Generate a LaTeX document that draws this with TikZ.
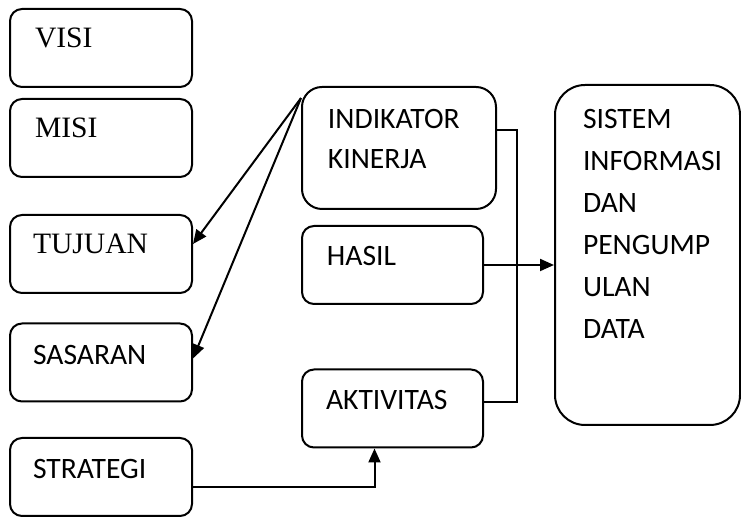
\documentclass[tikz,border=0pt]{standalone}
\usepackage{fontspec}
\setmainfont{Liberation Serif}
\newfontfamily\calibri{Carlito}
\usetikzlibrary{arrows.meta}

\newcommand{\kolomkiri}{101}
\newcommand{\kolomtengah}{392.5}

\begin{document}
\begin{tikzpicture}[x=0.5pt, y=-0.5pt, line width=1pt,
    kotak/.style={draw, rounded corners=6pt, inner sep=0pt,
      minimum width=91pt, minimum height=39pt},
    teks/.style={anchor=base west, inner sep=0pt, align=left,
      font=\fontsize{14.8}{20}\selectfont},
    panah/.style={-{Triangle[length=7pt, width=6pt]}}]

  \useasboundingbox (0,0) rectangle (741,517);

  % kolom kiri
  \foreach \nama/\posy in {visi/48, misi/138, tujuan/254, sasaran/362.5, strategi/477}
    \node [kotak] (\nama) at (\kolomkiri,\posy) {};

  \node [teks] (tvisi) at ([shift={(25,40)}]visi.north west) {VISI};
  \node [teks] (tmisi) at ([shift={(25,40)}]misi.north west) {MISI};
  \node [teks] (ttujuan) at ([shift={(23,40)}]tujuan.north west) {TUJUAN};
  \node [teks] (tsasaran) at ([shift={(23,42)}]sasaran.north west) {\calibri SASARAN};
  \node [teks] (tstrategi) at ([shift={(23,42)}]strategi.north west) {\calibri STRATEGI};

  % kolom tengah
  \node [kotak, minimum width=97pt, minimum height=61pt, rounded corners=10pt]
    (indikator) at (399,148) {};
  \node [kotak, minimum width=90.5pt] (hasil) at (\kolomtengah,265) {};
  \node [kotak, minimum width=90.5pt] (aktivitas) at (\kolomtengah,408.5) {};

  % base = baris terakhir
  \node [teks] (tindikator) at ([shift={(26,83)}]indikator.north west)
    {\calibri INDIKATOR\\\calibri KINERJA};
  \node [teks] (thasil) at ([shift={(25,41)}]hasil.north west) {\calibri HASIL};
  \node [teks] (taktivitas) at ([shift={(24,41)}]aktivitas.north west) {\calibri AKTIVITAS};

  % kolom kanan
  \node [kotak, minimum width=92.5pt, minimum height=170pt, rounded corners=15pt]
    (sistem) at (647.5,255) {};
  \node [teks, font=\fontsize{14.8}{21}\selectfont] (tsistem)
    at ([shift={(28,255)}]sistem.north west)
    {\calibri SISTEM\\\calibri INFORMASI\\\calibri DAN\\\calibri PENGUMP\\\calibri ULAN\\\calibri DATA};

  % penghubung
  \draw [panah] (indikator.153) -- ([yshift=5pt]tujuan.east);
  \draw [panah] (indikator.153) -- ([yshift=2pt]sasaran.east);
  \draw ([yshift=9pt]indikator.east) -- ++(20,0) |- ([yshift=3pt]aktivitas.east);
  \draw [panah] (hasil.east) -- (hasil.east -| sistem.west);
  \draw [panah] ([yshift=-5pt]strategi.east) -| ([xshift=-9pt]aktivitas.south);
\end{tikzpicture}
\end{document}
